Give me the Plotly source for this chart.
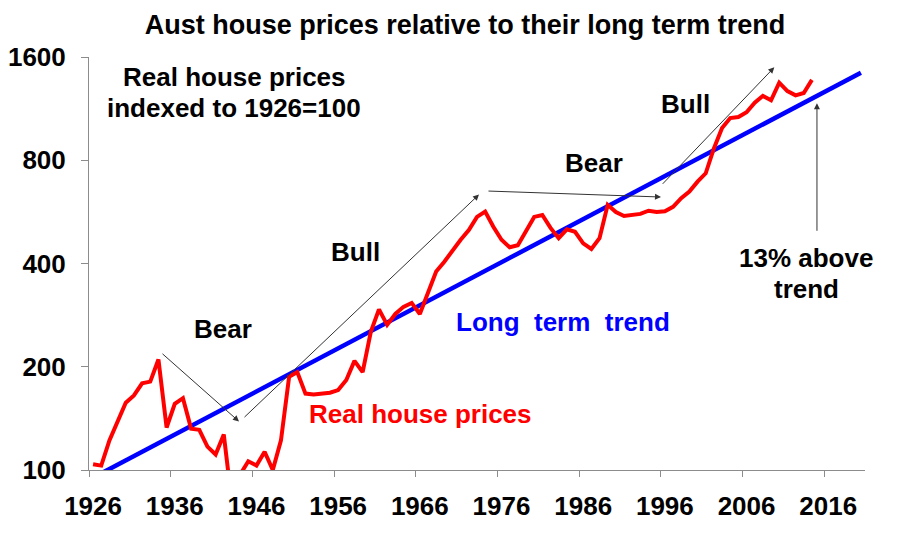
import plotly.graph_objects as go

# ---- data ----
years = list(range(1926, 2015))
real_prices = [
    104, 103, 122, 138, 157, 165, 179, 181, 210, 133,
    156, 162, 132, 131, 117, 111, 127, 80, 97, 106,
    103, 113, 100, 122, 187, 193, 167, 166, 167, 168,
    171, 183, 208, 193, 253, 294, 265, 285, 299, 307,
    285, 328, 379, 405, 438, 469, 501, 547, 567, 512,
    469, 446, 452, 495, 547, 554, 508, 474, 503, 495,
    458, 441, 474, 593, 565, 550, 554, 558, 570, 565,
    568, 585, 620, 648, 693, 733, 866, 993, 1062, 1069,
    1104, 1177, 1232, 1197, 1347, 1273, 1237, 1257, 1372,
]
trend_years = [1926, 2020]
trend_values = [95, 1440]

x_tick_years = [1926, 1936, 1946, 1956, 1966, 1976, 1986, 1996, 2006, 2016]
x_tick_labels = [str(y) for y in x_tick_years]
y_tick_values = [100, 200, 400, 800, 1600]
y_tick_labels = ["100", "200", "400", "800", "1600"]

FONT = "Arial, Liberation Sans, sans-serif"
W, H = 892, 552  # page adds 8px body margin

fig = go.Figure()
fig.add_trace(go.Scatter(x=trend_years, y=trend_values, mode="lines",
                         line=dict(color="#0000ff", width=4.5), hoverinfo="skip"))
fig.add_trace(go.Scatter(x=years, y=real_prices, mode="lines",
                         line=dict(color="#ff0000", width=4), hoverinfo="skip"))

axis_col = "#8c8c8c"
fig.update_xaxes(
    range=[1925.5, 2020.5], showgrid=False, zeroline=False, automargin=False,
    showline=True, linecolor=axis_col, linewidth=1,
    tickmode="array", tickvals=x_tick_years, ticktext=x_tick_labels,
    ticks="", ticklabelstandoff=13,
    tickfont=dict(family=FONT, size=26, color="black", weight="bold"),
    minor=dict(tick0=1925.5, dtick=10, ticks="outside", ticklen=6,
               tickcolor=axis_col, tickwidth=1, showgrid=False),
)
fig.update_yaxes(
    type="log", range=[2, 3.20412], showgrid=False, zeroline=False, automargin=False,
    showline=True, linecolor=axis_col, linewidth=1,
    tickmode="array", tickvals=y_tick_values, ticktext=y_tick_labels,
    ticks="outside", ticklen=7, tickcolor=axis_col, ticklabelstandoff=10,
    tickfont=dict(family=FONT, size=26, color="black", weight="bold"),
)

def txt(s, x, y, color="black", size=26):
    fig.add_annotation(text=s, x=x, y=y, xref="paper", yref="paper",
                       xanchor="center", yanchor="middle", showarrow=False,
                       font=dict(family=FONT, size=size, color=color, weight="bold"))

txt("Real house prices", 0.1869, 0.9516)
txt("indexed to 1926=100", 0.1869, 0.8765)
txt("Bear", 0.1727, 0.3414)
txt("Bull", 0.3428, 0.5278)
txt("Bear", 0.6508, 0.7433)
txt("Bull", 0.7693, 0.8862)
txt("Long&nbsp; term&nbsp; trend", 0.6108, 0.3584, color="#0000ff")
txt("Real house prices", 0.4278, 0.1356, color="#ff0000")
txt("13% above", 0.924, 0.5133)
txt("trend", 0.924, 0.4383)

def arrow(x, y, ax, ay):
    fig.add_annotation(text="", x=x, y=y, xref="paper", yref="paper",
                       ax=ax, ay=ay, axref="pixel", ayref="pixel",
                       showarrow=True, arrowhead=2, arrowsize=1.2, arrowwidth=1,
                       arrowcolor="#333333", standoff=0, startstandoff=0)

arrow(0.1933, 0.1174, -78, -69)
arrow(0.5026, 0.6671, -236, 224)
arrow(0.7371, 0.6610, -174, -6)
arrow(0.8831, 0.9750, -113, 118)
arrow(0.9381, 0.8879, 0, 129)

fig.update_layout(
    width=W, height=H, autosize=False,
    margin=dict(l=81, r=35, t=49, b=90, autoexpand=False),
    paper_bgcolor="white", plot_bgcolor="white",
    showlegend=False,
    title=dict(text="Aust house prices relative to their long term trend",
               x=(465 - 8) / W, xanchor="center", y=1 - 17 / H, yanchor="middle",
               xref="container", yref="container",
               font=dict(family=FONT, size=27, color="black", weight="bold")),
)

fig.write_html("out.html")
